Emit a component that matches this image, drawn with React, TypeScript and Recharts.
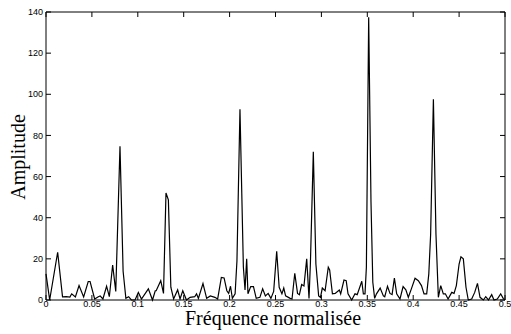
import { LineChart, Line, XAxis, YAxis } from 'recharts';

// frequency / amplitude pairs
const FREQ = [
  0, 0.004, 0.0127, 0.018, 0.022, 0.026, 0.028, 0.032, 0.036, 0.041, 0.046, 0.048,
  0.053, 0.057, 0.059, 0.062, 0.066, 0.069, 0.0726, 0.076, 0.0806, 0.084, 0.087,
  0.09, 0.093, 0.097, 0.1006, 0.104, 0.1115, 0.116, 0.119, 0.12, 0.125, 0.128,
  0.1307, 0.1333, 0.136, 0.139, 0.1434, 0.146, 0.149, 0.153, 0.157, 0.162, 0.164,
  0.166, 0.171, 0.175, 0.179, 0.184, 0.187, 0.191, 0.194, 0.197, 0.199, 0.201,
  0.203, 0.206, 0.208, 0.2113, 0.215, 0.2168, 0.2186, 0.22, 0.223, 0.226, 0.229,
  0.233, 0.236, 0.239, 0.242, 0.245, 0.248, 0.2513, 0.254, 0.257, 0.259, 0.261,
  0.266, 0.268, 0.271, 0.274, 0.276, 0.2785, 0.281, 0.284, 0.2865, 0.288, 0.2912,
  0.294, 0.297, 0.299, 0.301, 0.304, 0.3075, 0.309, 0.312, 0.315, 0.3195, 0.321,
  0.3246, 0.327, 0.329, 0.333, 0.3366, 0.339, 0.344, 0.3457, 0.3475, 0.349, 0.3515,
  0.354, 0.356, 0.358, 0.36, 0.364, 0.3675, 0.369, 0.372, 0.3747, 0.377, 0.3795,
  0.382, 0.3856, 0.389, 0.392, 0.3947, 0.398, 0.402, 0.4056, 0.409, 0.4118, 0.4147,
  0.417, 0.419, 0.422, 0.4248, 0.4274, 0.43, 0.4328, 0.435, 0.438, 0.442, 0.4445,
  0.447, 0.45, 0.452, 0.4546, 0.4575, 0.46, 0.4637, 0.467, 0.47, 0.4728, 0.4764,
  0.479, 0.482, 0.4855, 0.488, 0.4916, 0.4953, 0.498, 0.5,
];
const AMP = [
  12.7, 0, 23.2, 1.5, 1.6, 1.4, 3, 1.5, 7, 1.5, 9, 9,
  0.5, 1.6, 2, 0.5, 6.7, 1.6, 17, 4.2, 74.7, 14, 0.8,
  1.6, 0, 0, 3.7, 0.5, 5.4, 0, 4.5, 4.5, 9.4, 3.2,
  52, 48.7, 6.2, 0.5, 4.9, 0.5, 4.5, 0, 1.3, 1.6, 3,
  0.8, 8, 0.8, 2, 1.3, 0.5, 11, 10.7, 4.5, 3.2, 6.7,
  0.8, 3, 19, 92.7, 16, 4.9, 20, 3, 6.5, 6.5, 0.8,
  1.3, 5.4, 2, 3.2, 0.8, 4.2, 23.7, 6.2, 3, 5.8, 2,
  0.8, 0.5, 13, 3.2, 2.6, 7.5, 6.8, 20, 0.8, 17.5, 72,
  17.5, 2, 1.3, 5.8, 4.5, 15.9, 14.6, 3, 3.2, 4.9, 3,
  9.7, 9.4, 3, 0, 3, 2.6, 9.1, 3, 3, 15.9, 137.4,
  48, 8.6, 0.8, 3, 5.8, 2, 1.6, 6.7, 3.2, 2.6, 10.6,
  3, 0.5, 6.5, 4.9, 1.3, 5.4, 10.6, 9.4, 7, 3, 3,
  12.7, 32, 97.6, 32, 1.3, 7, 3, 3, 0.5, 3.7, 3.2,
  7, 17.5, 21, 20, 6.2, 0, 0.5, 3.7, 8.1, 1.3, 0,
  1.6, 0, 2.6, 0, 0.5, 3, 0.8, 0,
];

const X_TICKS = [0, 0.05, 0.1, 0.15, 0.2, 0.25, 0.3, 0.35, 0.4, 0.45, 0.5];
const Y_TICKS = [0, 20, 40, 60, 80, 100, 120, 140];

const data = FREQ.map((f, i) => ({ f, a: AMP[i] }));

const tickFont = { fill: '#000', fontSize: 9, fontFamily: 'Liberation Sans, Arial, sans-serif' };
const noLabel = () => <g />;

export default function App() {
  return (
    <div style={{ position: 'absolute', left: 0, top: 0, width: 511, height: 334, background: '#fff' }}>
      <LineChart width={511} height={334} data={data} margin={{ top: 11, right: 5, left: 0, bottom: 0 }}>
        <XAxis
          dataKey="f"
          type="number"
          domain={[0, 0.5]}
          ticks={X_TICKS}
          tickFormatter={(v) => String(v)}
          tick={tickFont}
          tickSize={-5}
          tickMargin={6}
          height={34}
          stroke="#000"
          interval={0}
        />
        <XAxis
          xAxisId="top"
          orientation="top"
          dataKey="f"
          type="number"
          domain={[0, 0.5]}
          ticks={X_TICKS}
          tick={noLabel}
          tickSize={-5}
          height={1}
          stroke="#000"
          interval={0}
        />
        <YAxis
          type="number"
          domain={[0, 140]}
          ticks={Y_TICKS}
          tick={tickFont}
          tickSize={-5}
          tickMargin={8}
          width={46}
          stroke="#000"
          interval={0}
        />
        <YAxis
          yAxisId="r"
          orientation="right"
          type="number"
          domain={[0, 140]}
          ticks={Y_TICKS}
          tick={noLabel}
          tickSize={-5}
          width={1}
          stroke="#000"
          interval={0}
        />
        {/* same series tied to the top/right axes so the MATLAB-style box gets drawn */}
        <Line
          xAxisId="top"
          yAxisId="r"
          dataKey="a"
          type="linear"
          stroke="none"
          dot={false}
          activeDot={false}
          legendType="none"
          isAnimationActive={false}
        />
        <Line
          dataKey="a"
          type="linear"
          stroke="#000"
          strokeWidth={1.2}
          dot={false}
          isAnimationActive={false}
        />
      </LineChart>
      <div style={{ position: 'absolute', left: 18, top: 157, transform: 'translate(-50%, -50%) rotate(-90deg)', fontFamily: 'Liberation Serif, Times New Roman, serif', fontSize: 20, whiteSpace: 'nowrap' }}>
        Amplitude
      </div>
      <div style={{ position: 'absolute', left: 273, top: 318, transform: 'translate(-50%, -50%)', fontFamily: 'Liberation Serif, Times New Roman, serif', fontSize: 20, whiteSpace: 'nowrap', lineHeight: 1 }}>
        Fréquence normalisée
      </div>
    </div>
  );
}
